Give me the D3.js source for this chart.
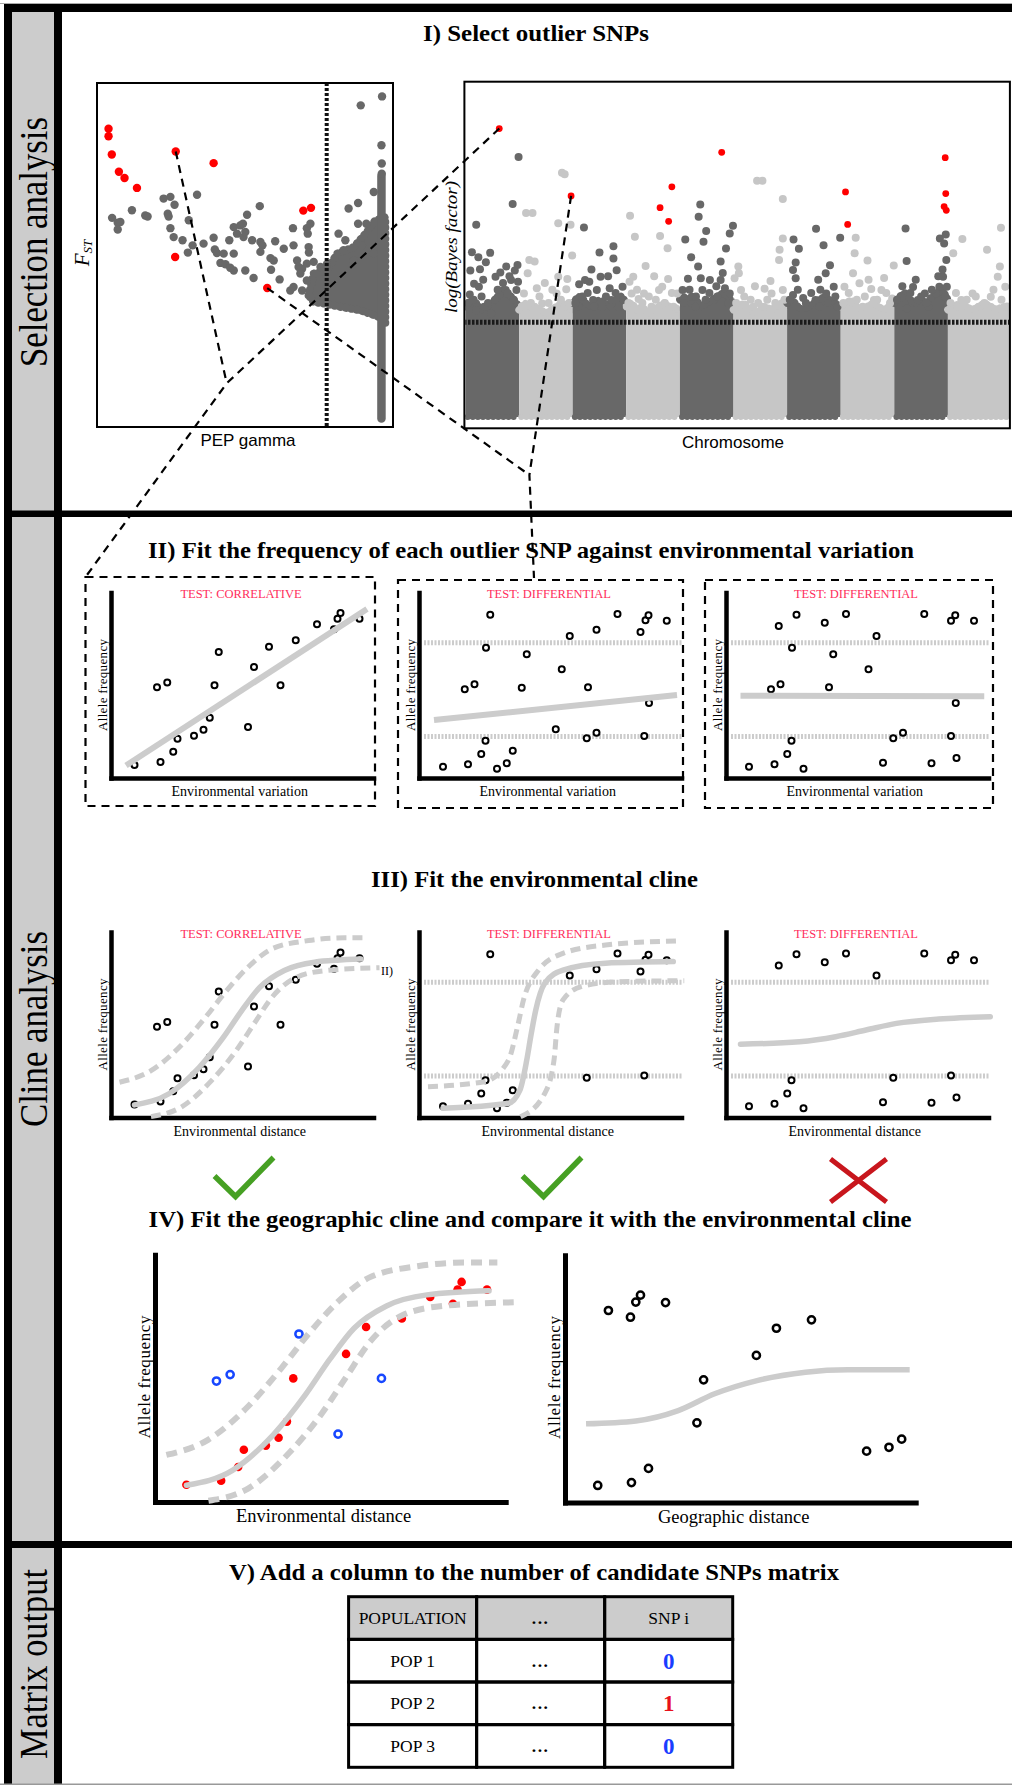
<!DOCTYPE html>
<html>
<head>
<meta charset="utf-8">
<script src="https://cdn.jsdelivr.net/npm/d3@7/dist/d3.min.js"></script>
<style>
  html, body { margin: 0; padding: 0; background: #fff; }
  svg { display: block; }
</style>
</head>
<body>
<svg id="fig" width="1012" height="1785"></svg>
<script>
// ================= DATA =================

// Step I (left): FST against PEP gamma, both on a 0-100 relative scale
const fstOutliers = [[3.9,86.7],[3.9,84.5],[5.0,79.2],[7.4,74.2],[9.3,72.4],[13.5,69.5],[26.6,80.1],
  [39.4,76.7],[26.4,49.4],[69.7,62.9],[72.3,63.7],[57.5,40.4]];
const fstNeutral = [[5.1,60.8],[7.0,59.4],[7.9,59.6],[7.0,57.4],[11.8,63.0],[16.3,61.5],[17.1,61.2],[22.5,66.4],
  [24.8,66.9],[26.2,64.6],[23.9,62.0],[24.2,61.2],[24.8,57.8],[25.9,55.2],[28.9,54.3],[30.7,50.7],[31.0,60.1],
  [32.3,52.8],[33.8,67.5],[36.0,53.3],[39.4,55.0],[39.8,51.6],[40.5,50.6],[42.8,50.4],[44.7,54.3],[46.2,50.4],
  [46.2,58.1],[47.3,56.2],[48.4,58.6],[49.3,59.1],[49.5,55.2],[50.7,61.7],[50.1,56.7],[52.4,54.3],[52.9,43.3],
  [55.0,64.2],[55.2,53.8],[55.9,52.8],[58.6,49.1],[58.8,45.7],[60.2,54.0],[61.7,42.9],[63.1,51.8],[66.2,57.8],
  [66.4,52.8],[67.6,48.4],[68.1,46.5],[69.3,46.0],[70.9,57.8],[71.2,56.2],[71.5,52.3],[71.6,50.7],[72.1,59.1],
  [65.3,39.7],[66.4,40.7],[69.3,39.7],[50.1,45.5],[46.2,45.5],[41.7,47.7],[43.4,47.3],[45.0,46.3],[55.2,50.9],
  [59.7,48.4],[68.7,44.6],[70.9,42.6],[70.9,47.5],[73.2,48.0],[75.5,46.5],[77.7,47.3],[81.6,56.2],[83.9,54.3],
  [85.0,63.5],[88.2,65.1],[88.2,59.1],[89.5,52.8],[91.0,59.1],[93.5,68.3],[93.5,50.4],[89.1,93.5],[96.3,96.1],
  [96.1,81.9],[96.2,76.6],[96.2,73.6],[86.7,48.4],[83.3,51.4]];
// outline of the saturated bulk of neutral SNPs
const fstBulk = [[71.5,38.3],[73.2,44.6],[77.7,45.5],[81.1,50.4],[86.7,52.3],[91.2,56.7],[94.0,60.1],[97.4,61.0],
  [97.4,30.0],[95.2,32.0],[89.0,33.9],[82.2,34.9],[76.6,35.9],[73.2,36.3]];
const fstColumn = [[96.1,2.5],[96.1,73]];
const pepCutoff = 77.6;

// Step I (right): log(Bayes factor) along the genome (positions in chromosome units)
const chromLengths = [1,1,1,1,1,1,1,1,1,1.14];
const bfCutoff = 28.3;
// upper edge of the saturated band of SNPs, sampled at 11 points per chromosome
const bfBulkTop = [
  [33,35,34,32,33,34,36,38,37,35,33], [32,34,33,33,32,31,32,33,34,33,32],
  [34,36,35,33,34,35,34,33,35,36,34], [33,34,32,33,31,32,33,34,33,32,33],
  [35,36,34,35,33,34,35,36,37,36,34], [32,33,34,32,31,32,33,32,33,34,32],
  [34,35,33,32,33,34,35,36,35,34,33], [33,34,35,33,32,33,34,33,32,33,34],
  [34,36,37,35,34,35,34,36,37,38,35], [32,33,34,33,32,33,34,33,32,33,32]];
const bfOutliers = [[0.63,86.1],[1.97,66.0],[3.63,62.5],[3.85,68.7],[3.79,58.4],[4.78,79.0],[7.09,67.2],
  [7.13,57.5],[8.95,77.4],[8.96,66.7],[8.93,62.8],[8.97,61.7]];
const bfNeutral = [
  [0.99,77.6],[0.88,63.6],[0.20,57.4],[0.12,49.2],[0.24,47.7],[0.38,46.2],[0.46,49.0],[0.27,44.1],[0.09,43.7],
  [0.16,39.8],[0.25,38.9],[0.08,36.6],[0.35,32.9],[0.56,41.9],[0.65,43.1],[0.76,44.9],[0.63,36.4],[0.75,37.9],
  [0.95,37.9],[0.98,40.4],[0.92,43.7],[0.97,45.4],[0.85,40.9],[0.78,36.9],[0.48,30.9],[0.20,31.9],
  [0.05,34],[0.15,35],[0.30,36],[0.42,34],[0.55,35],[0.70,40],[0.82,42],[0.90,35],[0.60,38],[0.33,41],
  [1.80,72.9],[1.85,72.5],[1.13,60.9],[1.25,60.9],[1.73,57.8],[1.96,57.4],[1.99,48.2],[1.90,41.2],[1.88,38.1],
  [1.29,46.4],[1.19,46.9],[1.33,38.4],[1.09,36.9],[1.16,42.9],[1.73,41.9],[1.70,36.9],[1.43,33.9],[1.84,32.9],
  [1.05,33],[1.22,34],[1.38,36],[1.55,34],[1.62,38],[1.78,35],[1.93,34],[1.48,40],
  [2.21,56.6],[2.50,49.1],[2.76,51.0],[2.76,47.3],[2.82,43.8],[2.52,41.9],[2.31,40.4],[2.12,39.6],[2.23,40.9],
  [2.69,38.4],[2.45,37.9],[2.11,32.9],[2.72,34.9],[2.86,32.9],[2.93,38.9],[2.38,34.9],[2.55,32.9],
  [2.05,34],[2.18,36],[2.28,37],[2.40,33],[2.62,36],[2.66,42],[2.80,37],[2.95,35],[2.35,44],
  [3.07,60.1],[3.16,53.8],[3.36,45.1],[3.63,54.0],[3.77,50.4],[3.78,41.2],[3.67,38.9],[3.61,37.9],[3.23,35.2],
  [3.47,32.9],[3.13,41.9],[3.88,32.9],[3.10,36.9],[3.33,36.9],[3.95,36.9],[3.06,40.4],
  [3.04,34],[3.20,38],[3.30,34],[3.42,36],[3.55,35],[3.72,34],[3.85,37],[3.52,42],
  [4.38,63.4],[4.35,59.8],[4.49,55.5],[4.10,53.0],[4.44,52.3],[4.21,47.7],[4.34,44.9],[4.39,41.4],[4.15,41.3],
  [4.93,54.8],[4.99,57.1],[4.86,50.3],[4.76,46.4],[4.76,40.9],[4.84,38.4],[4.93,36.9],[4.42,37.9],[4.63,34.9],
  [4.22,35.9],[4.05,37.9],[4.56,40.9],[4.29,32.9],
  [4.08,34],[4.18,38],[4.30,36],[4.48,35],[4.55,37],[4.70,36],[4.80,43],[4.90,34],[4.68,39],
  [5.44,70.5],[5.54,70.5],[5.92,65.1],[5.09,44.9],[5.02,41.4],[5.14,37.9],[5.37,32.9],[5.58,38.3],[5.71,36.9],
  [5.69,40.6],[5.92,53.3],[5.86,49.9],[5.85,46.9],[5.92,37.9],[5.54,32.9],[5.27,32.4],[5.10,42.9],
  [5.05,34],[5.20,36],[5.32,35],[5.46,34],[5.63,35],[5.78,34],[5.95,35],[5.40,39],
  [6.12,53.0],[6.22,50.2],[6.16,46.1],[6.11,43.9],[6.16,41.4],[6.54,56.2],[6.68,51.3],[6.80,45.3],[6.72,42.9],
  [6.11,36.4],[6.30,35.5],[6.73,36.9],[6.60,32.9],[6.53,34.9],[6.87,38.9],[6.94,32.9],[6.99,53.5],
  [6.05,35],[6.20,38],[6.35,34],[6.45,37],[6.62,38],[6.76,34],[6.90,36],[6.58,41],
  [7.28,53.5],[7.26,48.9],[7.50,46.7],[7.23,42.9],[7.35,39.9],[7.57,38.2],[7.81,41.5],[7.99,45.2],[7.07,38.9],
  [7.76,37.9],[7.96,35.4],[7.62,34.9],[7.41,32.9],
  [7.05,34],[7.15,37],[7.30,35],[7.45,36],[7.68,35],[7.85,37],[7.92,34],[7.52,41],
  [8.21,56.3],[8.23,46.6],[8.35,38.8],[8.13,35.6],[8.23,32.4],[8.44,34.9],[8.57,36.9],[8.64,32.9],[8.85,53.3],
  [8.93,51.8],[8.96,54.5],[8.97,46.9],[8.91,41.9],[8.84,38.9],[8.78,36.9],[8.98,38.9],[8.95,35.9],
  [8.05,35],[8.15,39],[8.30,37],[8.40,41],[8.50,36],[8.70,38],[8.82,42],[8.90,44],[8.60,34],
  [9.10,48.9],[9.27,53.1],[9.73,49.9],[9.99,56.5],[9.97,44.9],[9.93,41.9],[9.25,34.9],[9.59,32.9],[9.80,35.9],
  [9.46,36.9],[10.07,38.9],[9.18,32.9],
  [9.05,34],[9.15,37],[9.35,35],[9.52,36],[9.68,34],[9.85,38],[10.0,35],[10.1,33]];
// outliers followed into step II: [FST outlier index, Bayes factor outlier index]
const followedOutliers = [[6,0],[11,1]];

// Steps II-IV: allele frequency (0-100) of each population against distance (0-100)
const envX = [9.4,18.4,22.5,19.8,24.9,26.6,33.2,37.0,39.5,41.4,43.1,54.8,57.2,63.2,67.8,73.9,82.4,89.2,90.6,91.8,99.4];
const envY = [7.2,50.4,53.1,8.9,14.6,21.8,23.5,26.8,33.5,51.5,70.0,28.3,61.7,72.9,51.5,76.5,85.4,82.6,88.5,91.7,88.5];
const envInCline = [1,0,0,1,1,1,1,1,1,1,0,0,1,1,0,1,1,1,1,1,1];
const diffAX = [9.6,19.6,24.9,26.6,31.2,35.1,37.5,18.3,22.2,26.8,28.5,41.1,43.1,54.7,57.1,60.3,67.1,67.6,71.0,71.0,79.4,88.6,90.1,90.6,91.8,92.0,99.1];
const diffAY = [6.3,7.6,13.3,20.7,5.2,8.2,15.2,49.3,52.1,72.4,90.7,50.2,68.7,27.1,60.4,78.9,22.1,50.4,25.2,82.4,91.1,81.1,23.3,87.6,90.4,41.7,87.4];
const diffBX = [9.2,19.4,24.5,26.2,31.0,18.0,21.8,26.4,28.2,21.1,39.5,41.2,42.9,48.0,57.0,60.2,62.8,66.9,70.8,79.3,82.2,90.0,90.0,91.7,91.9,92.2,99.2];
const diffBY = [6.3,7.6,13.3,20.7,5.2,49.3,52.1,72.4,90.7,84.4,86.3,50.4,68.7,91.1,60.4,78.9,8.5,22.1,25.2,91.1,8.2,23.3,87.4,90.4,41.7,11.1,87.4];
const geoX = [9.8,19.9,25.0,13.0,19.6,21.2,22.6,30.1,39.5,41.5,57.3,63.3,73.8,90.3,97.0,100.8];
const geoY = [7.1,8.3,14.2,80.0,77.2,83.5,86.4,83.3,33.2,51.1,61.3,72.6,76.1,21.4,23.0,26.4];
const bandLow = 23, bandHigh = 75.2;

const testTypes = ["TEST: CORRELATIVE", "TEST: DIFFERENTIAL", "TEST: DIFFERENTIAL"];
const linearFits = [[[6,7],[102.4,93.9]], [[6,32.2],[103.2,46.1]], [[5.8,45.7],[103.3,45.4]]];
const clineFits = [
  { mid: [[9.4,7],[23.2,13.2],[35.4,28],[45,44.6],[52.3,59.4],[59.6,72.4],[69.3,81.7],[81.4,86.3],[100,88]],
    hi: [[3.4,19.6],[16,26],[28,40],[37.8,55.7],[46.3,70.6],[54.8,83.5],[64.4,93.7],[79,98.3],[93.5,99.8],[102.5,99.8]],
    lo: [[16,0.5],[28,5.7],[40.2,20.5],[50,37],[57.2,52],[64.4,66.8],[74.2,77.9],[86.3,81.7],[107.4,83.2]] },
  { mid: [[9.6,5.1],[35.8,7.9],[40.4,15.3],[43.1,31.9],[44.8,45.8],[46.7,59.7],[50.3,74.6],[57.6,81.9],[74.6,85.7],[101.7,86.6]],
    hi: [[3.6,17.1],[26.1,19.9],[35.8,31.9],[39.4,50.4],[41.8,65.3],[47.9,82],[57.6,91.2],[74.6,95.8],[104.9,98.2]],
    lo: [[40.6,0.4],[50.3,13.4],[54,31.9],[55.2,50.4],[57.6,65.3],[64.9,72.7],[79.4,75.4],[106.1,76]] },
  { mid: [[5.8,40.7],[29.4,42.1],[43.9,44.9],[56,48.6],[68.2,52.3],[85.1,54.7],[105.7,56]] }
];
const clineVerdicts = ["pass", "pass", "fail"];
const geoFit = [[6.3,32.8],[21.2,34],[33.9,38.3],[44.8,45.3],[57.5,50.8],[72,54.3],[84.7,55.3],[103.2,55.3]];

// Step V: candidate SNP matrix
const matrixHeader = ["POPULATION", "...", "SNP i"];
const populations = ["POP 1", "POP 2", "POP 3"];
const snpCalls = [0, 1, 0];

const sectionNames = ["Selection analysis", "Cline analysis", "Matrix output"];
const stepTitles = ["I) Select outlier SNPs",
  "II) Fit the frequency of each outlier SNP against environmental variation",
  "III) Fit the environmental cline",
  "IV) Fit the geographic cline and compare it with the environmental cline",
  "V) Add a column to the number of candidate SNPs matrix"];

// ================= DRAWING =================
const svg = d3.select("#fig");
const SERIF = "'Liberation Serif','Times New Roman',Times,serif";
const SANS = "'Liberation Sans',Arial,Helvetica,sans-serif";
const PINK = "#ff2d5c", LIGHT = "#cccccc", DARK = "#686868", PALE = "#c6c6c6";

svg.append("rect").attr("width", 1012).attr("height", 1785).attr("fill", "#fff");

// ---- frame with the grey side column ----
const frame = svg.append("g");
frame.append("rect").attr("x", 12).attr("y", 12).attr("width", 42).attr("height", 1772).attr("fill", "#cccccc");
frame.append("rect").attr("x", 4).attr("y", 4).attr("width", 1008).attr("height", 8).attr("fill", "#000");
frame.append("rect").attr("x", 4).attr("y", 4).attr("width", 8).attr("height", 1780).attr("fill", "#000");
frame.append("rect").attr("x", 54).attr("y", 4).attr("width", 8).attr("height", 1780).attr("fill", "#000");
frame.append("rect").attr("x", 4).attr("y", 510.5).attr("width", 1008).attr("height", 6.5).attr("fill", "#000");
frame.append("rect").attr("x", 4).attr("y", 1541).attr("width", 1008).attr("height", 7).attr("fill", "#000");
frame.append("line").attr("x1", 0).attr("x2", 1012).attr("y1", 3.5).attr("y2", 3.5).attr("stroke", "#aaa").attr("stroke-width", 1);
frame.append("line").attr("x1", 0).attr("x2", 1012).attr("y1", 1784.3).attr("y2", 1784.3).attr("stroke", "#999").attr("stroke-width", 1.5);

const sectionCenters = [242, 1029, 1664], sectionLens = [250, 196, 190];
sectionNames.forEach((s, i) => {
  frame.append("text").attr("transform", `translate(47,${sectionCenters[i]}) rotate(-90)`)
    .attr("text-anchor", "middle").attr("font-family", SERIF).attr("font-size", 40)
    .attr("textLength", sectionLens[i]).attr("lengthAdjust", "spacingAndGlyphs").text(s);
});

// ---- step titles ----
const titlePos = [[536, 41, 226], [531, 558, 766], [534.5, 887, 327], [530, 1227, 763], [534, 1580, 610]];
stepTitles.forEach((t, i) => {
  svg.append("text").attr("x", titlePos[i][0]).attr("y", titlePos[i][1]).attr("text-anchor", "middle")
    .attr("font-family", SERIF).attr("font-weight", "bold").attr("font-size", 23)
    .attr("textLength", titlePos[i][2]).attr("lengthAdjust", "spacingAndGlyphs").text(t);
});

// ---- Step I left: FST vs PEP gamma ----
const fx = d3.scaleLinear().domain([0, 100]).range([97, 393]);
const fy = d3.scaleLinear().domain([0, 100]).range([427, 83]);
const gF = svg.append("g");
const bulkLine = d3.line().x(d => fx(d[0])).y(d => fy(d[1])).curve(d3.curveLinearClosed);
gF.append("path").datum(fstBulk).attr("d", bulkLine)
  .attr("fill", DARK).attr("stroke", DARK).attr("stroke-width", 3).attr("stroke-linejoin", "round");
// beaded rim: overlapping dots along the edge of the bulk
gF.append("path").datum(fstBulk).attr("d", bulkLine)
  .attr("fill", "none").attr("stroke", DARK).attr("stroke-width", 8).attr("stroke-linecap", "round")
  .attr("stroke-dasharray", "0.1 5.5");
gF.append("path").datum(fstColumn).attr("d", d3.line().x(d => fx(d[0])).y(d => fy(d[1])))
  .attr("stroke", DARK).attr("stroke-width", 8.5).attr("stroke-linecap", "round");
gF.selectAll("circle.n").data(fstNeutral).join("circle").attr("class", "n")
  .attr("cx", d => fx(d[0])).attr("cy", d => fy(d[1])).attr("r", 4.2).attr("fill", DARK);
gF.selectAll("circle.o").data(fstOutliers).join("circle").attr("class", "o")
  .attr("cx", d => fx(d[0])).attr("cy", d => fy(d[1])).attr("r", 4.2).attr("fill", "#ff0000");
gF.append("line").attr("x1", fx(pepCutoff)).attr("x2", fx(pepCutoff)).attr("y1", fy(100)).attr("y2", fy(0))
  .attr("stroke", "#111").attr("stroke-width", 4).attr("stroke-dasharray", "3 2");
gF.append("rect").attr("x", fx(0)).attr("y", fy(100)).attr("width", fx(100) - fx(0)).attr("height", fy(0) - fy(100))
  .attr("fill", "none").attr("stroke", "#000").attr("stroke-width", 2);
gF.append("text").attr("x", 248).attr("y", 446).attr("text-anchor", "middle").attr("font-family", SANS)
  .attr("font-size", 17).text("PEP gamma");
const fstLab = gF.append("text").attr("transform", "translate(89,253) rotate(-90)").attr("text-anchor", "middle")
  .attr("font-family", SERIF).attr("font-style", "italic");
fstLab.append("tspan").attr("font-size", 21).text("F");
fstLab.append("tspan").attr("font-size", 13).attr("dy", 3).text("ST");

// ---- Step I right: genome scan ----
const chromStarts = d3.cumsum([0, ...chromLengths]);
const mx = d3.scaleLinear().domain([0, d3.sum(chromLengths)]).range([465.5, 1009]);
const my = d3.scaleLinear().domain([0, 100]).range([417, 82]);
const chromOf = p => Math.min(chromLengths.length - 1, d3.bisectRight(chromStarts, p) - 1);
const chromColor = i => (i % 2 === 0 ? DARK : PALE);
svg.append("clipPath").attr("id", "manClip").append("rect")
  .attr("x", 465.4).attr("y", 82.7).attr("width", 543.6).attr("height", 344.6);
const gM = svg.append("g").attr("clip-path", "url(#manClip)");
const manLine = d3.line().x(d => mx(d[0])).y(d => my(d[1]));
chromLengths.forEach((len, i) => {
  const s = chromStarts[i];
  const n = bfBulkTop[i].length;
  const top = bfBulkTop[i].map((h, j) => [s + len * j / (n - 1), h]);
  const poly = [[s, 0], ...top, [s + len, 0]];
  gM.append("path").datum(poly).attr("d", manLine.curve(d3.curveLinearClosed)).attr("fill", chromColor(i));
  // beaded upper and lower rims of the saturated band
  gM.append("path").datum(top).attr("d", manLine.curve(d3.curveLinear))
    .attr("fill", "none").attr("stroke", chromColor(i)).attr("stroke-width", 7.5).attr("stroke-linecap", "round")
    .attr("stroke-dasharray", "0.1 4.8");
  gM.append("path").datum([[s + 0.04, 0], [s + len - 0.04, 0]]).attr("d", manLine.curve(d3.curveLinear))
    .attr("stroke", chromColor(i)).attr("stroke-width", 6).attr("stroke-linecap", "round")
    .attr("stroke-dasharray", "0.1 5");
});
gM.selectAll("circle.n").data(bfNeutral).join("circle").attr("class", "n")
  .attr("cx", d => mx(d[0])).attr("cy", d => my(d[1])).attr("r", 4)
  .attr("fill", d => chromColor(chromOf(d[0])));
gM.selectAll("circle.o").data(bfOutliers).join("circle").attr("class", "o")
  .attr("cx", d => mx(d[0])).attr("cy", d => my(d[1])).attr("r", 3.4).attr("fill", "#ff0000");
gM.append("line").attr("x1", 464).attr("x2", 1010).attr("y1", my(bfCutoff)).attr("y2", my(bfCutoff))
  .attr("stroke", "#1a1a1a").attr("stroke-width", 5).attr("stroke-dasharray", "2.5 1.5");
svg.append("rect").attr("x", 464.4).attr("y", 81.7).attr("width", 545.5).attr("height", 346.6)
  .attr("fill", "none").attr("stroke", "#000").attr("stroke-width", 2);
svg.append("text").attr("x", 733).attr("y", 448).attr("text-anchor", "middle").attr("font-family", SANS)
  .attr("font-size", 17).text("Chromosome");
svg.append("text").attr("transform", "translate(457,247) rotate(-90)").attr("text-anchor", "middle")
  .attr("font-family", SERIF).attr("font-style", "italic").attr("font-size", 17.5)
  .attr("textLength", 132).attr("lengthAdjust", "spacingAndGlyphs").text("log(Bayes factor)");

// ---- panels for steps II-IV ----
function makePanel(ax, ay, kx, ky) {
  return {
    ax, ay,
    x: d3.scaleLinear().domain([0, 100]).range([ax, ax + 100 * kx]),
    y: d3.scaleLinear().domain([0, 100]).range([ay, ay - 100 * ky])
  };
}
function drawAxes(p, w) {
  const xa = d3.scaleLinear().domain([0, 105]).range([p.x(0), p.x(105)]);
  const ya = d3.scaleLinear().domain([0, 103]).range([p.y(0), p.y(103)]);
  svg.append("g").attr("transform", `translate(0,${p.ay})`)
    .call(d3.axisBottom(xa).tickValues([]).tickSizeOuter(0))
    .call(g => g.select(".domain").attr("stroke", "#000").attr("stroke-width", w).attr("stroke-linecap", "square"));
  svg.append("g").attr("transform", `translate(${p.ax},0)`)
    .call(d3.axisLeft(ya).tickValues([]).tickSizeOuter(0))
    .call(g => g.select(".domain").attr("stroke", "#000").attr("stroke-width", w).attr("stroke-linecap", "square"));
}
const lineOf = p => d3.line().x(d => p.x(d[0])).y(d => p.y(d[1])).curve(d3.curveMonotoneX);
function openDots(p, xs, ys, keep, color, r, sw) {
  const pts = xs.map((x, i) => [x, ys[i]]).filter((d, i) => keep(d, i));
  svg.append("g").selectAll("circle").data(pts).join("circle")
    .attr("cx", d => p.x(d[0])).attr("cy", d => p.y(d[1])).attr("r", r)
    .attr("fill", "#fff").attr("stroke", color).attr("stroke-width", sw);
}
function bandLines(p) {
  [bandLow, bandHigh].forEach(v => {
    svg.append("line").attr("x1", p.x(2)).attr("x2", p.x(105)).attr("y1", p.y(v)).attr("y2", p.y(v))
      .attr("stroke", LIGHT).attr("stroke-width", 5).attr("stroke-dasharray", "2 1.5");
  });
}
function smallLabels(p, test, xlab) {
  svg.append("text").attr("x", p.x(52)).attr("y", p.ay - 180).attr("text-anchor", "middle")
    .attr("font-family", SERIF).attr("font-size", 12.5).attr("fill", PINK).text(test);
  svg.append("text").attr("transform", `translate(${p.ax - 4},${p.ay - 93}) rotate(-90)`).attr("text-anchor", "middle")
    .attr("font-family", SERIF).attr("font-size", 13).attr("textLength", 92).attr("lengthAdjust", "spacing")
    .text("Allele frequency");
  svg.append("text").attr("x", p.x(51.5)).attr("y", p.ay + 18).attr("text-anchor", "middle")
    .attr("font-family", SERIF).attr("font-size", 14).text(xlab);
}
const pointSets = [[envX, envY], [diffAX, diffAY], [diffBX, diffBY]];
const outsideBand = d => d[1] < bandLow + 1 || d[1] > bandHigh;

// Step II
const panelsII = [makePanel(111, 778, 2.5, 1.8), makePanel(419, 778, 2.5, 1.8), makePanel(726, 778, 2.5, 1.8)];
const boxesII = [[85.5, 577, 289.5, 229], [398, 580, 285, 228], [705, 580, 288, 228]];
panelsII.forEach((p, k) => {
  const b = boxesII[k];
  svg.append("rect").attr("x", b[0]).attr("y", b[1]).attr("width", b[2]).attr("height", b[3])
    .attr("fill", "none").attr("stroke", "#000").attr("stroke-width", 2.2).attr("stroke-dasharray", "8 6");
  if (k > 0) bandLines(p);
  drawAxes(p, 4.5);
  openDots(p, pointSets[k][0], pointSets[k][1], () => true, "#000", 3, 2);
  svg.append("path").datum(linearFits[k]).attr("d", lineOf(p)).attr("fill", "none")
    .attr("stroke", LIGHT).attr("stroke-width", 6);
  smallLabels(p, testTypes[k], "Environmental variation");
});

// Step III
const panelsIII = [makePanel(111, 1117.5, 2.5, 1.8), makePanel(419, 1117.5, 2.5, 1.8), makePanel(726, 1117.5, 2.5, 1.8)];
panelsIII.forEach((p, k) => {
  if (k > 0) bandLines(p);
  drawAxes(p, 4.5);
  openDots(p, pointSets[k][0], pointSets[k][1], k === 0 ? () => true : outsideBand, "#000", 3, 2);
  const c = clineFits[k];
  ["hi", "lo"].forEach(key => {
    if (c[key]) svg.append("path").datum(c[key]).attr("d", lineOf(p)).attr("fill", "none")
      .attr("stroke", LIGHT).attr("stroke-width", 5).attr("stroke-dasharray", "10 6");
  });
  svg.append("path").datum(c.mid).attr("d", lineOf(p)).attr("fill", "none")
    .attr("stroke", LIGHT).attr("stroke-width", 5.5).attr("stroke-linecap", "round");
  smallLabels(p, testTypes[k], "Environmental distance");
  // verdict mark under each panel
  const cx = p.x(53), cy = 1180;
  if (clineVerdicts[k] === "pass") {
    svg.append("path").attr("d", `M${cx - 29},${cy - 4}L${cx - 8},${cy + 16.5}L${cx + 30},${cy - 22.5}`)
      .attr("fill", "none").attr("stroke", "#46a023").attr("stroke-width", 5.5);
  } else {
    svg.append("path").attr("d", `M${cx - 28},${cy - 21}L${cx + 28},${cy + 22}M${cx + 28},${cy - 21}L${cx - 28},${cy + 22}`)
      .attr("fill", "none").attr("stroke", "#c8161d").attr("stroke-width", 5);
  }
});
svg.append("text").attr("x", panelsIII[0].x(108)).attr("y", 975).attr("font-family", SERIF)
  .attr("font-size", 12).text("II)");

// Step IV
const pEnv = makePanel(155, 1502, 3.34, 2.4), pGeo = makePanel(565, 1502.5, 3.34, 2.4);
drawAxes(pEnv, 5);
drawAxes(pGeo, 5);
svg.append("g").selectAll("circle").data(envX.map((x, i) => [x, envY[i]]).filter((d, i) => envInCline[i]))
  .join("circle").attr("cx", d => pEnv.x(d[0])).attr("cy", d => pEnv.y(d[1])).attr("r", 4.3).attr("fill", "#ff0000");
openDots(pEnv, envX, envY, (d, i) => !envInCline[i], "#1747ff", 3.6, 2.5);
["hi", "lo"].forEach(key => {
  svg.append("path").datum(clineFits[0][key]).attr("d", lineOf(pEnv)).attr("fill", "none")
    .attr("stroke", LIGHT).attr("stroke-width", 6).attr("stroke-dasharray", "11 7");
});
svg.append("path").datum(clineFits[0].mid).attr("d", lineOf(pEnv)).attr("fill", "none")
  .attr("stroke", LIGHT).attr("stroke-width", 5.5).attr("stroke-linecap", "round");
openDots(pGeo, geoX, geoY, () => true, "#000", 3.6, 2.5);
svg.append("path").datum(geoFit).attr("d", lineOf(pGeo)).attr("fill", "none")
  .attr("stroke", LIGHT).attr("stroke-width", 5.5);
[[pEnv, "Environmental distance"], [pGeo, "Geographic distance"]].forEach(([p, lab]) => {
  svg.append("text").attr("transform", `translate(${p.ax - 5},${p.ay - 125}) rotate(-90)`).attr("text-anchor", "middle")
    .attr("font-family", SERIF).attr("font-size", 17).attr("textLength", 123).attr("lengthAdjust", "spacing")
    .text("Allele frequency");
  svg.append("text").attr("x", p.x(50.5)).attr("y", p.ay + 20).attr("text-anchor", "middle")
    .attr("font-family", SERIF).attr("font-size", 18.5).text(lab);
});

// ---- dashed leaders from the followed outliers to step II ----
const junctions = [[226.7, 383.3], [529.4, 475]];
const targets = [[85.5, 577], [534, 578]];
followedOutliers.forEach(([fi, bi], k) => {
  const a = [fx(fstOutliers[fi][0]), fy(fstOutliers[fi][1])];
  const b = [mx(bfOutliers[bi][0]), my(bfOutliers[bi][1])];
  const j = junctions[k], t = targets[k];
  svg.append("path").attr("d", `M${a[0]},${a[1]}L${j[0]},${j[1]}M${b[0]},${b[1]}L${j[0]},${j[1]}L${t[0]},${t[1]}`)
    .attr("fill", "none").attr("stroke", "#000").attr("stroke-width", 2.2).attr("stroke-dasharray", "8 6");
});

// ---- Step V: matrix ----
const colX = d3.scaleBand().domain(d3.range(3)).range([348.6, 732.7]);
const rowY = d3.scaleBand().domain(d3.range(4)).range([1596.7, 1767.3]);
const tbl = svg.append("g");
tbl.append("rect").attr("x", colX(0)).attr("y", rowY(0)).attr("width", colX.bandwidth() * 3).attr("height", rowY.bandwidth())
  .attr("fill", "#cccccc");
d3.range(4).forEach(r => d3.range(3).forEach(c => {
  tbl.append("rect").attr("x", colX(c)).attr("y", rowY(r)).attr("width", colX.bandwidth()).attr("height", rowY.bandwidth())
    .attr("fill", "none").attr("stroke", "#000").attr("stroke-width", 3);
}));
const cellText = (r, c, txt) => tbl.append("text").attr("x", colX(c) + colX.bandwidth() / 2)
  .attr("y", rowY(r) + rowY.bandwidth() / 2 + 6).attr("text-anchor", "middle").attr("font-family", SERIF)
  .attr("font-size", 17.5).text(txt);
matrixHeader.forEach((h, c) => {
  const t = cellText(0, c, h);
  if (h === "...") t.attr("font-weight", "bold").attr("letter-spacing", 1.5);
});
populations.forEach((pop, i) => {
  cellText(i + 1, 0, pop);
  cellText(i + 1, 1, "...").attr("font-weight", "bold").attr("letter-spacing", 1.5);
  cellText(i + 1, 2, snpCalls[i]).attr("font-size", 23).attr("font-weight", "bold")
    .attr("y", rowY(i + 1) + rowY.bandwidth() / 2 + 8)
    .attr("fill", snpCalls[i] === 1 ? "#e8101a" : "#1a3dff");
});
</script>
</body>
</html>
